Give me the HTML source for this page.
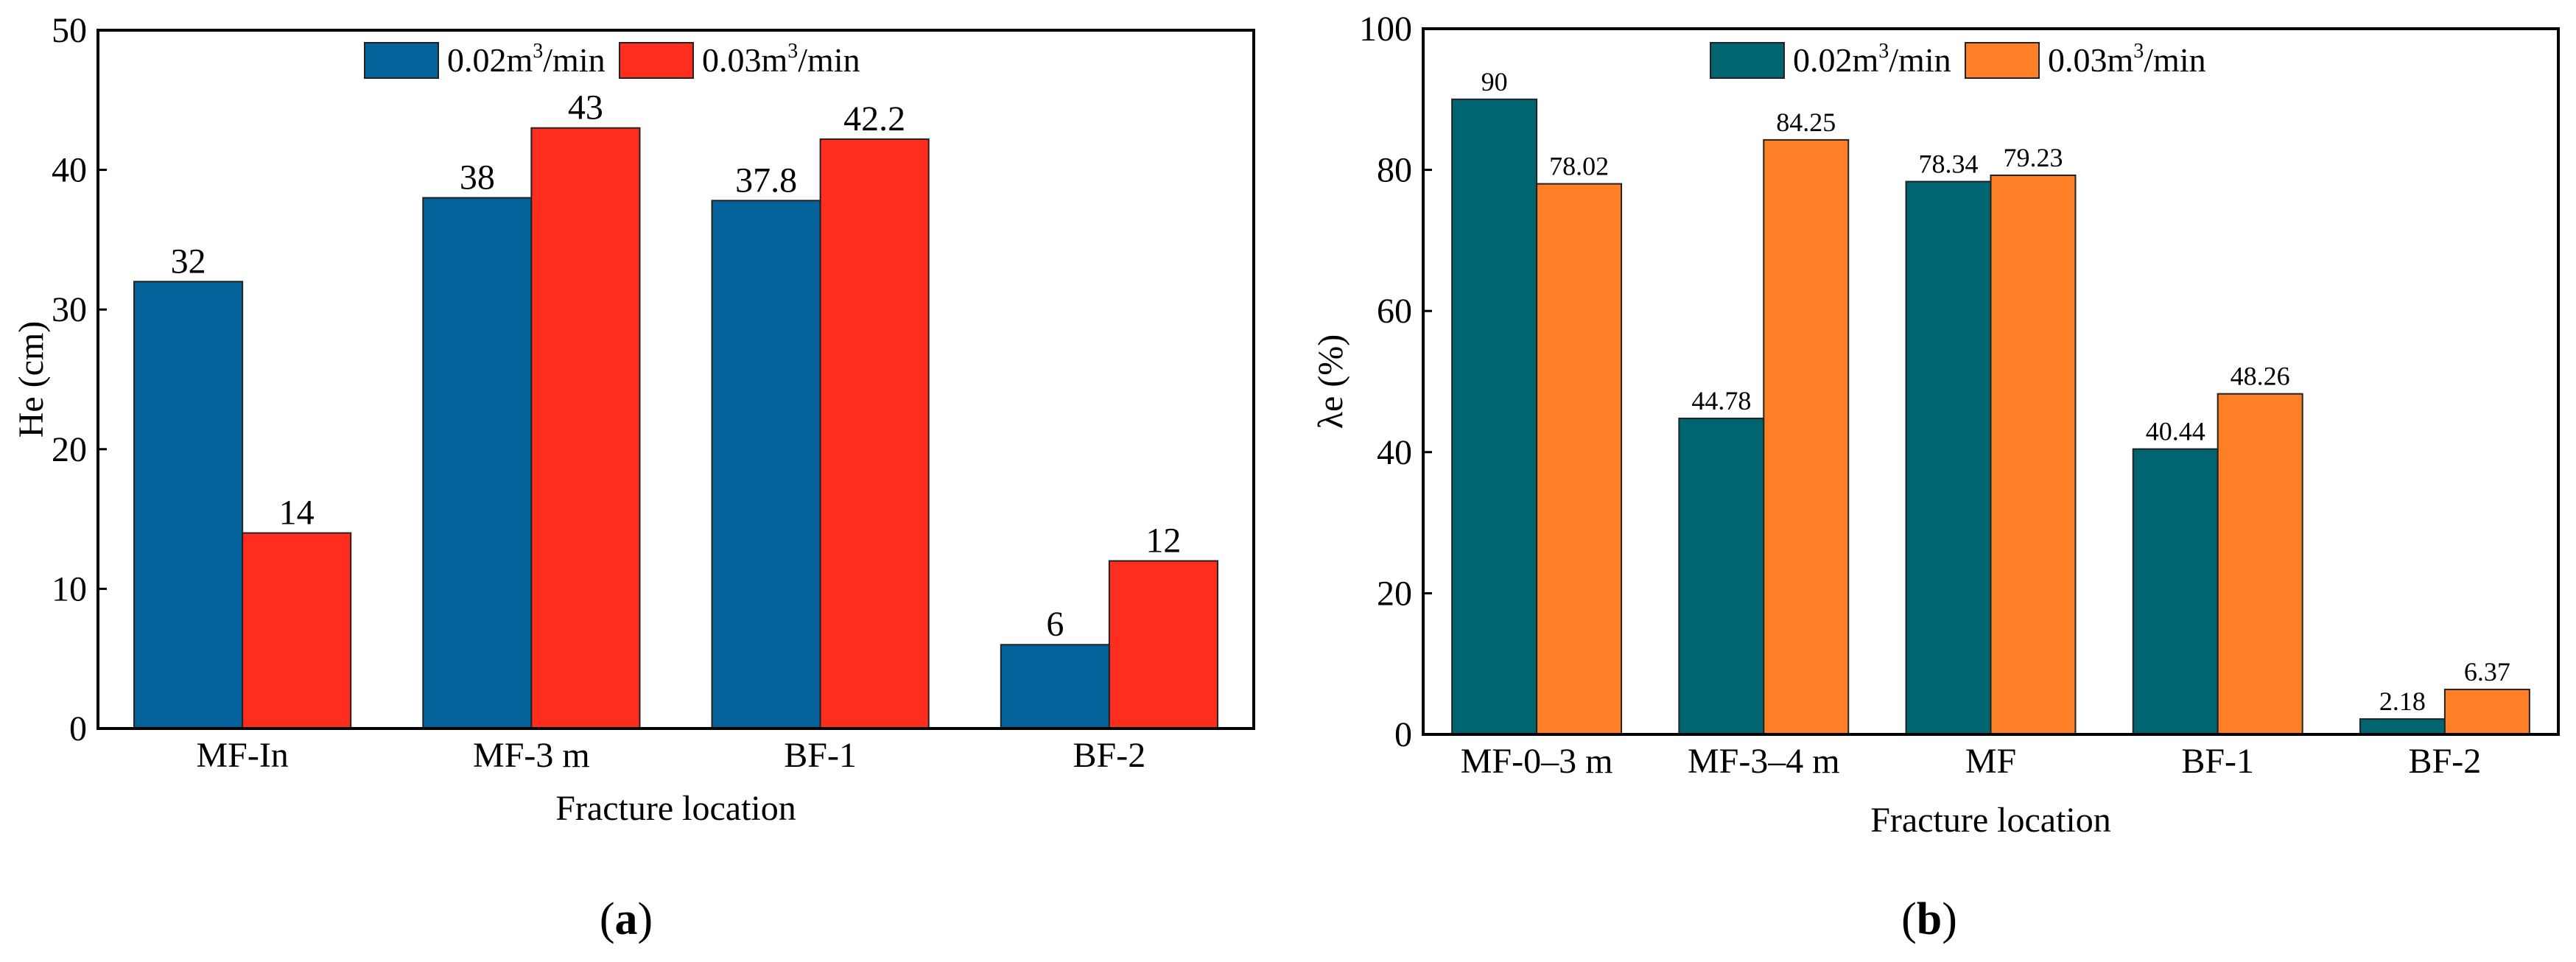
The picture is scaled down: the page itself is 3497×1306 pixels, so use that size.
<!DOCTYPE html>
<html><head><meta charset="utf-8"><style>
html,body{margin:0;padding:0;background:#fff;}
svg{display:block;}
svg text{font-family:"Liberation Serif","DejaVu Serif",serif;}
</style></head><body>
<svg id="fig" width="3497" height="1306" viewBox="0 0 3497 1306" xmlns="http://www.w3.org/2000/svg" font-family="Liberation Serif, DejaVu Serif, serif">
<g id="pa"></g>
<g id="pb"></g>
<text x="850" y="1268" font-size="62" font-family="Liberation Serif, serif" text-anchor="middle">(<tspan font-weight="bold">a</tspan>)</text>
<text x="2619" y="1268" font-size="62" font-family="Liberation Serif, serif" text-anchor="middle">(<tspan font-weight="bold">b</tspan>)</text>
</svg>
<script>
const catsA = ["MF-In", "MF-3 m", "BF-1", "BF-2"];
const valsA1 = [32, 38, 37.8, 6];
const valsA2 = [14, 43, 42.2, 12];
const labA1 = ["32", "38", "37.8", "6"];
const labA2 = ["14", "43", "42.2", "12"];
const ticksA = [0, 10, 20, 30, 40, 50];

const catsB = ["MF-0\u20133 m", "MF-3\u20134 m", "MF", "BF-1", "BF-2"];
const valsB1 = [90, 44.78, 78.34, 40.44, 2.18];
const valsB2 = [78.02, 84.25, 79.23, 48.26, 6.37];
const labB1 = ["90", "44.78", "78.34", "40.44", "2.18"];
const labB2 = ["78.02", "84.25", "79.23", "48.26", "6.37"];
const ticksB = [0, 20, 40, 60, 80, 100];

const NS = "http://www.w3.org/2000/svg";
function mk(parent, tag, attrs, text) {
  const e = document.createElementNS(NS, tag);
  for (const k in attrs) e.setAttribute(k, attrs[k]);
  if (tag === "text") e.setAttribute("font-family", "Liberation Serif, DejaVu Serif, serif");
  if (text !== undefined) e.textContent = text;
  parent.appendChild(e);
  return e;
}

function chart(g, cfg) {
  const {L, R, T, B, ymax, cats, v1, v2, l1, l2, ticks, c1, c2, barFrac, offFrac, valFont, yTitle, yTitleX, xTitleY, legend} = cfg;
  const y = v => B - (v / ymax) * (B - T);
  const gw = (R - L) / cats.length;
  const x = i => L + i * gw;
  const bw = gw * barFrac;
  const off = gw * offFrac;
  cats.forEach((c, i) => {
    const b1 = mk(g, "rect", {x: x(i) + off, y: y(v1[i]), width: bw, height: B - y(v1[i]), fill: c1, stroke: "#222", "stroke-width": 2});
    
    
    const b2 = mk(g, "rect", {x: x(i) + off + bw, y: y(v2[i]), width: bw, height: B - y(v2[i]), fill: c2, stroke: "#222", "stroke-width": 2});
    
    
    const t1 = mk(g, "text", {x: x(i) + off + bw / 2, y: y(v1[i]) - 12, "font-size": valFont, "text-anchor": "middle"}, l1[i]);
    
    
    const t2 = mk(g, "text", {x: x(i) + off + bw * 1.5, y: y(v2[i]) - 12, "font-size": valFont, "text-anchor": "middle"}, l2[i]);
    
    
    const xl = mk(g, "text", {x: x(i) + gw / 2, y: B + 52, "font-size": 48, "text-anchor": "middle"}, c);
    
    
  });
  ticks.forEach(t => {
    const tl = mk(g, "line", {x1: L, x2: L + 12, y1: y(t), y2: y(t), stroke: "#000", "stroke-width": 3});
    
    
    const tx = mk(g, "text", {x: L - 15, y: y(t) + 16, "font-size": 48, "text-anchor": "end"}, String(t));
    
    
  });
  const frame = mk(g, "rect", {x: L, y: T, width: R - L, height: B - T, fill: "none", stroke: "#000", "stroke-width": 4});
  
  
  const yt = mk(g, "text", {x: 0, y: 0, "font-size": 48, "text-anchor": "middle", transform: `translate(${yTitleX},${(T + B) / 2}) rotate(-90)`}, yTitle);
  
  
  const xt = mk(g, "text", {x: (L + R) / 2, y: xTitleY, "font-size": 48, "text-anchor": "middle"}, "Fracture location");
  
  
  legend.forEach((le, k) => {
    const lb = mk(g, "rect", {x: le.x, y: 58, width: 100, height: 48, fill: k ? c2 : c1, stroke: "#222", "stroke-width": 2});
    
    
    const lt = mk(g, "text", {x: le.x + 112, y: 97, "font-size": 46}, "");
    
    
    mk(lt, "tspan", {}, le.a);
    mk(lt, "tspan", {dy: -19, "font-size": 28}, "3");
    mk(lt, "tspan", {dy: 19}, "/min");
  });
}

chart(document.getElementById("pa"), {
  L: 133, R: 1702, T: 41, B: 989, ymax: 50, cats: catsA, v1: valsA1, v2: valsA2, l1: labA1, l2: labA2,
  ticks: ticksA, c1: "#03629A", c2: "#FF2D1E", barFrac: 0.375, offFrac: 0.125, valFont: 48,
  yTitle: "He (cm)", yTitleX: 58, xTitleY: 1113,
  legend: [{x: 495, a: "0.02m"}, {x: 841, a: "0.03m"}]
});
chart(document.getElementById("pb"), {
  L: 1932, R: 3473, T: 39, B: 997, ymax: 100, cats: catsB, v1: valsB1, v2: valsB2, l1: labB1, l2: labB2,
  ticks: ticksB, c1: "#006471", c2: "#FF7F27", barFrac: 0.373, offFrac: 0.127, valFont: 36,
  yTitle: "\u03BBe (%)", yTitleX: 1822, xTitleY: 1129,
  legend: [{x: 2322, a: "0.02m"}, {x: 2668, a: "0.03m"}]
});
</script>
</body></html>
